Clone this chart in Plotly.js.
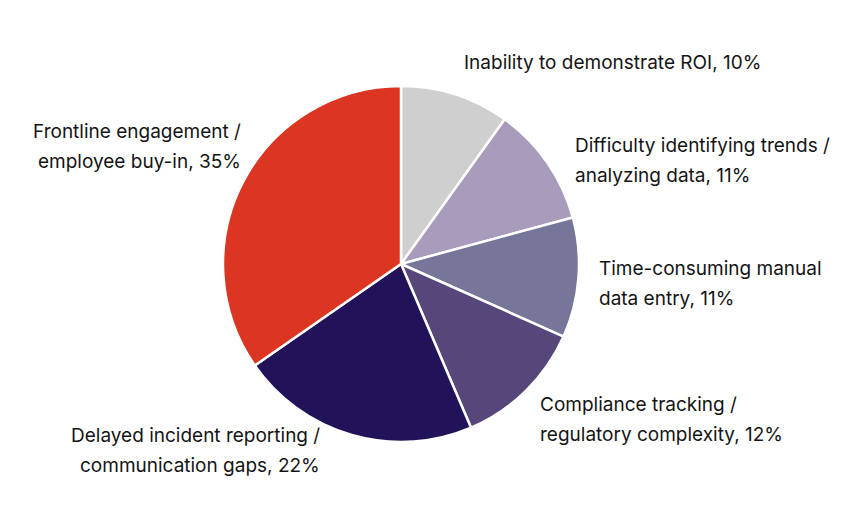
<!DOCTYPE html>
<html>
<head>
<meta charset="utf-8">
<script src="https://cdn.plot.ly/plotly-3.0.1.min.js"></script>
<style>
  html, body { margin: 0; padding: 0; background: #fff; }
  #chart { width: 864px; height: 510px; }
</style>
</head>
<body>
<div id="chart"></div>
<script>
"use strict";

// Slices clockwise from 12 o'clock
const labels = [
  "Inability to demonstrate ROI",
  "Difficulty identifying trends /<br>analyzing data",
  "Time-consuming manual<br>data entry",
  "Compliance tracking /<br>regulatory complexity",
  "Delayed incident reporting /<br>communication gaps",
  "Frontline engagement /<br>employee buy-in",
];
const values = [10, 11, 11, 12, 22, 35];
const colors = ["#cfcfcf", "#a99bbb", "#76759a", "#574679", "#22125a", "#dc3522"];

// label anchor in pixels: [x, y of first line, anchor side]
const W = 864, H = 510;
const LABEL_POS = [
  [462, 62, "left"],
  [573, 145, "left"],
  [597, 268, "left"],
  [538, 404, "left"],
  [322, 435, "right"],
  [243, 131, "right"],
];
const LINE_GAP = 30;

const trace = {
  type: "pie",
  labels: labels,
  values: values,
  sort: false,
  direction: "clockwise",
  rotation: 0,
  textinfo: "none",
  hoverinfo: "label+percent",
  marker: { colors: colors, line: { color: "#ffffff", width: 2.5 } },
  domain: {
    x: [(401 - 178) / W, (401 + 178) / W],
    y: [(H - 442) / H, (H - 86) / H],
  },
};

const annotations = [];
labels.forEach((lab, i) => {
  const lines = (lab + ", " + values[i] + "%").split("<br>");
  const [px, py, side] = LABEL_POS[i];
  lines.forEach((ln, j) => {
    annotations.push({
      xref: "paper",
      yref: "paper",
      x: px / W,
      y: 1 - (py + j * LINE_GAP) / H,
      xanchor: side,
      yanchor: "middle",
      text: ln,
      showarrow: false,
      font: { family: "Inter, 'Noto Sans', sans-serif", size: 19, color: "#141414" },
    });
  });
});

const layout = {
  width: W,
  height: H,
  margin: { t: 0, r: 0, b: 0, l: 0 },
  paper_bgcolor: "#ffffff",
  showlegend: false,
  annotations: annotations,
};

Plotly.newPlot("chart", [trace], layout, { displayModeBar: false, staticPlot: true });
</script>
</body>
</html>
